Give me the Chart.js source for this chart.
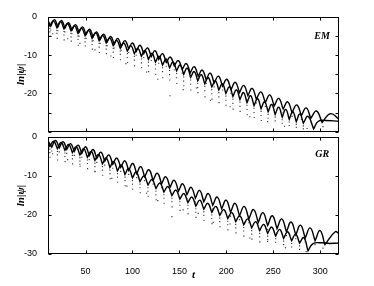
<!DOCTYPE html>
<html>
<head>
<meta charset="utf-8">
<script src="https://cdn.jsdelivr.net/npm/chart.js@4.4.0/dist/chart.umd.min.js"></script>
<style>
  body { margin: 0; background: #fff; }
  #wrap { position: relative; width: 374px; height: 286px; }
  canvas { position: absolute; left: 0; }
  #emCanvas { top: 0; }
  #grCanvas { top: 120px; }
</style>
</head>
<body>
<div id="wrap">
  <canvas id="emCanvas" width="374" height="140"></canvas>
  <canvas id="grCanvas" width="374" height="166"></canvas>
</div>
<script>
// time axis ticks and y ticks
const xTicks = [50, 100, 150, 200, 250, 300];
const emYTicks = [0, -5, -10, -15, -20, -25, -30];
const grYTicks = [0, -10, -20, -30];

// EM panel as [t, ln|psi|] (crests and cusps)
const emUpper = [[10,-0.9],[13,-2.4],[16.8,-0.7],[20.5,-2.6],[24.3,-0.9],[28,-2.9],[31.8,-1.5],[35.5,-3.4],[39.3,-2.0],[43,-4.0],
  [46.8,-2.6],[50.5,-4.6],[54.3,-3.2],[58,-5.2],[61.8,-3.9],[65.5,-5.9],[69.3,-4.5],[73,-6.5],[76.8,-5.1],[80.5,-7.1],
  [84.3,-5.6],[88,-7.7],[92,-6.2],[96,-8.3],[100,-6.8],[104,-9.0],[108,-7.4],[112,-9.6],[116,-8.1],[120,-10.4],
  [124,-8.8],[128,-11.1],[132,-9.6],[136,-11.9],[140.3,-10.5],[144.5,-12.8],[148.8,-11.4],[153,-13.7],[157.3,-12.2],[161.5,-14.6],
  [165.8,-13.0],[170,-15.5],[174.3,-13.9],[178.5,-16.4],[182.8,-14.7],[187,-17.3],[191.5,-15.5],[196,-18.1],[200.5,-16.3],[205,-19.0],
  [209.5,-17.1],[214,-19.8],[218.5,-17.9],[223,-20.6],[227.5,-18.7],[232,-21.5],[236.8,-19.6],[241.5,-22.4],[246.3,-20.4],[251,-23.3],
  [255.8,-21.3],[260.5,-24.1],[265.3,-22.2],[270,-25.0],[275,-23.0],[280,-25.8],[285,-23.8],[290,-26.5],[296,-24.6],[302,-27.6],
  [311,-25.3],[320,-26.8]];
const emLower = [[10,-1.2],[12,-2.3],[15.8,-1.0],[19.5,-2.8],[23.3,-1.2],[27,-3.1],[30.8,-1.7],[34.5,-3.6],[38.3,-2.3],[42,-4.3],
  [45.8,-2.9],[49.5,-4.9],[53.3,-3.5],[57,-5.6],[60.8,-4.1],[64.5,-6.2],[68.3,-4.8],[72,-6.8],[75.8,-5.5],[79.5,-7.5],
  [83.3,-6.1],[87,-8.2],[90.8,-6.8],[94.5,-8.9],[98.3,-7.5],[102,-9.6],[105.8,-8.2],[109.5,-10.3],[113.3,-8.8],[117,-11.1],
  [120.8,-9.5],[124.5,-11.8],[128.3,-10.3],[132,-12.6],[135.8,-11.0],[139.5,-13.3],[143.3,-11.8],[147,-14.1],[150.8,-12.6],[154.5,-15.0],
  [158.3,-13.4],[162,-15.8],[165.8,-14.3],[169.5,-16.7],[173.3,-15.1],[177,-17.5],[180.8,-15.9],[184.5,-18.3],[188.3,-16.7],[192,-19.1],
  [195.8,-17.5],[199.5,-20.0],[203.3,-18.3],[207,-20.8],[210.8,-19.1],[214.5,-21.6],[218.3,-19.8],[222,-22.4],[225.8,-20.6],[229.5,-23.2],
  [233.3,-21.4],[237,-24.0],[240.8,-22.2],[244.5,-24.8],[248.3,-22.9],[252,-25.5],[255.8,-23.6],[259.5,-26.2],[263.3,-24.2],[267,-26.8],
  [270.8,-24.8],[274.5,-27.4],[278.3,-25.4],[282,-27.8],[287,-26.0],[293,-29.3],[298,-27.3],[306,-27.1],[320,-27.3]];
const emDots = [[12,-3.0],[12,-3.9],[12.3,-5.0],[19.5,-3.5],[19.5,-4.3],[19.8,-5.6],[27,-3.8],[27,-4.7],[27.2,-6.0],
  [34.5,-4.3],[34.5,-5.2],[34.8,-6.3],[42,-5.0],[42,-5.9],[42.2,-7.4],[49.5,-5.6],[49.5,-6.5],[49.7,-7.6],
  [57,-6.3],[57,-7.2],[57.2,-8.4],[64.5,-6.9],[64.5,-7.9],[64.7,-9.3],[72,-7.5],[72,-8.4],[72.2,-9.6],
  [79.5,-8.2],[79.5,-9.2],[79.7,-10.6],[87,-8.9],[87,-9.8],[87.2,-11.2],[94.5,-9.6],[94.5,-10.6],[94.7,-11.9],
  [102,-10.3],[102,-11.3],[102.2,-12.8],[109.5,-11.0],[109.5,-12.0],[109.7,-13.3],[117,-11.8],[117,-12.8],[117.2,-14.3],
  [124.5,-12.5],[124.5,-13.6],[124.7,-15.0],[132,-13.3],[132,-14.3],[132.2,-15.9],[139.5,-14.0],[139.5,-15.1],[139.7,-16.5],
  [147,-14.8],[147,-15.9],[147.2,-17.4],[154.5,-15.7],[154.5,-16.8],[154.7,-18.0],[162,-16.5],[162,-17.6],[162.2,-19.1],
  [169.5,-17.4],[169.5,-18.5],[169.7,-19.8],[177,-18.2],[177,-19.3],[177.2,-20.9],[184.5,-19.0],[184.5,-20.1],[184.7,-21.5],
  [192,-19.8],[192,-20.9],[192.2,-22.4],[199.5,-20.7],[199.5,-21.8],[199.7,-23.1],[207,-21.5],[207,-22.6],[207.2,-24.1],
  [214.5,-22.3],[214.5,-23.4],[214.7,-24.7],[222,-23.1],[222,-24.2],[222.2,-25.6],[229.5,-23.9],[229.5,-25.0],[229.7,-26.3],
  [237,-24.7],[237,-25.8],[237.2,-27.1],[244.5,-25.5],[244.5,-26.5],[252,-26.2],[252,-27.2],[259.5,-26.9],[259.5,-27.8],
  [267,-27.5],[267,-28.4],[274.5,-28.1],[274.5,-28.9],[282,-28.5],[282,-29.3],
  [13,-3.4],[20.5,-3.6],[28,-3.9],[35.5,-4.4],[43,-5.0],[50.5,-5.6],[58,-6.2],[65.5,-6.9],[73,-7.5],[80.5,-8.1],
  [88,-8.7],[96,-9.3],[104,-10.0],[112,-10.6],[120,-11.4],[128,-12.1],[136,-12.9],[144.5,-13.8],[153,-14.7],[161.5,-15.6],
  [170,-16.5],[178.5,-17.4],[187,-18.3],[196,-19.1],[205,-20.0],[214,-20.8],[223,-21.6],[232,-22.5],[241.5,-23.4],[251,-24.3],
  [260.5,-25.1],[270,-26.0],[280,-26.8],[290,-27.5],
  [15,-4.4],[31,-5.7],[44,-6.9],[60,-8.6],[77,-10.2],[93,-12.2],[115,-14.4],[127,-16.3],[140,-20.6],[154,-19.0],
  [168,-18.6],[183,-21.8],[204,-23.5],[225,-26.1],[244,-27.4],[262,-28.6],[286,-29.2],[303,-28.7]];

// GR panel
const grUpper = [[10,-1.0],[14,-2.6],[18,-0.9],[22,-2.8],[26,-1.2],[30,-3.2],[34,-1.7],[38,-3.7],[42,-2.1],[46,-4.2],
  [50,-2.5],[54,-4.8],[58,-3.2],[62,-5.5],[66.3,-3.9],[70.5,-6.2],[74.8,-4.6],[79,-7.0],[83.3,-5.4],[87.5,-7.8],
  [91.8,-6.1],[96,-8.6],[100.3,-6.8],[104.5,-9.4],[108.8,-7.6],[113,-10.2],[117.5,-8.4],[122,-11.1],[126.5,-9.3],[131,-12.0],
  [135.5,-10.2],[140,-12.9],[144.5,-11.1],[149,-13.9],[153.5,-12.0],[158,-14.8],[162.5,-12.9],[167,-15.7],[171.5,-13.7],[176,-16.6],
  [180.8,-14.5],[185.5,-17.5],[190.3,-15.4],[195,-18.4],[199.8,-16.2],[204.5,-19.3],[209.3,-17.0],[214,-20.2],[219,-17.8],[224,-21.0],
  [229,-18.6],[234,-21.9],[239,-19.4],[244,-22.7],[249,-20.2],[254,-23.5],[259,-21.0],[264,-24.3],[269,-21.8],[274,-25.1],
  [279,-22.6],[284,-25.9],[289.3,-23.3],[294.5,-26.6],[299.8,-24.0],[305,-27.6],[316,-24.3],[320,-24.8]];
const grLower = [[10,-1.3],[12,-2.4],[16,-1.1],[20,-3.0],[24,-1.4],[28,-3.4],[32,-1.9],[36,-4.0],[40,-2.5],[44,-4.6],
  [48,-3.0],[52,-5.2],[56,-3.7],[60,-6.0],[64,-4.5],[68,-6.9],[72,-5.4],[76,-7.8],[80,-6.3],[84,-8.7],
  [88,-7.2],[92,-9.6],[96,-8.1],[100,-10.5],[104,-9.0],[108,-11.4],[112.3,-10.0],[116.5,-12.3],[120.8,-10.9],[125,-13.2],
  [129.3,-11.8],[133.5,-14.1],[137.8,-12.7],[142,-15.0],[146.3,-13.6],[150.5,-15.9],[154.8,-14.5],[159,-16.8],[163.3,-15.4],[167.5,-17.7],
  [171.8,-16.2],[176,-18.5],[180.3,-17.0],[184.5,-19.3],[188.8,-17.8],[193,-20.1],[197.3,-18.6],[201.5,-20.9],[205.8,-19.4],[210,-21.7],
  [214.3,-20.2],[218.5,-22.5],[222.8,-21.0],[227,-23.3],[231.3,-21.7],[235.5,-24.0],[239.8,-22.4],[244,-24.7],[248.3,-23.1],[252.5,-25.4],
  [256.8,-23.7],[261,-26.0],[265.3,-24.3],[269.5,-26.6],[273.8,-24.9],[278,-27.2],[282.5,-25.8],[287,-29.2],[292,-27.4],[300,-27.1],
  [310,-27.3],[320,-27.2]];
const grDots = [[12,-3.1],[12,-4.0],[12.2,-5.2],[20,-3.7],[20,-4.6],[20.2,-5.9],[28,-4.1],[28,-5.0],[28.2,-6.3],
  [36,-4.7],[36,-5.6],[36.2,-6.9],[44,-5.3],[44,-6.2],[44.2,-7.5],[52,-5.9],[52,-6.8],[52.2,-8.1],
  [60,-6.7],[60,-7.6],[60.2,-8.9],[68,-7.6],[68,-8.5],[68.2,-9.8],[76,-8.5],[76,-9.4],[76.2,-10.7],
  [84,-9.4],[84,-10.3],[84.2,-11.6],[92,-10.3],[92,-11.2],[92.2,-12.5],[100,-11.2],[100,-12.1],[100.2,-13.4],
  [108,-12.1],[108,-13.0],[108.2,-14.3],[116.5,-13.0],[116.5,-13.9],[116.7,-15.2],[125,-13.9],[125,-14.8],[125.2,-16.1],
  [133.5,-14.8],[133.5,-15.7],[133.7,-17.0],[142,-15.7],[142,-16.6],[142.2,-17.9],[150.5,-16.6],[150.5,-17.5],[150.7,-18.8],
  [159,-17.5],[159,-18.4],[159.2,-19.7],[167.5,-18.4],[167.5,-19.3],[167.7,-20.6],[176,-19.2],[176,-20.1],[176.2,-21.4],
  [184.5,-20.0],[184.5,-20.9],[184.7,-22.2],[193,-20.8],[193,-21.7],[193.2,-23.0],[201.5,-21.6],[201.5,-22.5],[201.7,-23.8],
  [210,-22.4],[210,-23.3],[210.2,-24.6],[218.5,-23.2],[218.5,-24.1],[218.7,-25.4],[227,-24.0],[227,-24.9],[227.2,-26.2],
  [235.5,-24.7],[235.5,-25.6],[235.7,-26.9],[244,-25.4],[244,-26.3],[252.5,-26.1],[252.5,-27.0],[261,-26.7],[261,-27.6],
  [269.5,-27.3],[269.5,-28.2],[278,-27.9],[278,-28.8],
  [14,-3.6],[22,-3.8],[30,-4.2],[38,-4.7],[46,-5.2],[54,-5.8],[62,-6.5],[70.5,-7.2],[79,-8.0],[87.5,-8.8],
  [96,-9.6],[104.5,-10.4],[113,-11.2],[122,-12.1],[131,-13.0],[140,-13.9],[149,-14.9],[158,-15.8],[167,-16.7],[185.5,-18.5],
  [195,-19.4],[204.5,-20.3],[214,-21.2],[224,-22.0],[234,-22.9],[244,-23.7],[254,-24.5],[264,-25.3],[274,-26.1],[284,-26.9],
  [294.5,-27.6],
  [15,-4.3],[31,-5.8],[44,-7.0],[60,-8.8],[78,-10.6],[94,-12.6],[115,-14.4],[127,-16.3],[142,-20.4],[154,-18.7],
  [170,-19.6],[186,-21.9],[204,-22.3],[225,-25.9],[244,-26.8],[263,-28.4],[285,-29.4],[303,-28.5]];

// repeat each cusp so the bezier turns sharply there and stays round on the crests
function curvePoints(pairs) {
  const pts = [];
  pairs.forEach(([t, v], i) => {
    pts.push({ x: t, y: v });
    const prev = pairs[i - 1], next = pairs[i + 1];
    if (prev && next && v < prev[1] && v < next[1]) pts.push({ x: t, y: v });
  });
  return pts;
}

// box with inward ticks on all four sides, matlab style
const framePlugin = {
  id: "frame",
  afterDraw(chart) {
    const { ctx, chartArea: a, scales } = chart;
    const L = Math.round(a.left) + 0.5, R = Math.round(a.right) - 0.5;
    const T = Math.round(a.top) + 0.5, B = Math.round(a.bottom) - 0.5;
    ctx.save();
    ctx.strokeStyle = "#000";
    ctx.lineWidth = 1;
    ctx.beginPath();
    scales.x.ticks.forEach((tk) => {
      const px = Math.round(scales.x.getPixelForValue(tk.value)) + 0.5;
      ctx.moveTo(px, B); ctx.lineTo(px, B - 3);
      ctx.moveTo(px, T); ctx.lineTo(px, T + 3);
    });
    scales.y.ticks.forEach((tk) => {
      const py = Math.round(scales.y.getPixelForValue(tk.value)) + 0.5;
      ctx.moveTo(L, py); ctx.lineTo(L + 3, py);
      ctx.moveTo(R, py); ctx.lineTo(R - 3, py);
    });
    ctx.stroke();
    ctx.strokeRect(L, T, R - L, B - T);
    ctx.restore();
  },
};

const tagPlugin = {
  id: "tag",
  afterDraw(chart, args, opts) {
    const { ctx, scales } = chart;
    ctx.save();
    ctx.fillStyle = "#000";
    ctx.font = 'italic bold 10px "Liberation Serif"';
    ctx.textAlign = "center";
    ctx.textBaseline = "middle";
    ctx.fillText(opts.text, scales.x.getPixelForValue(opts.t), scales.y.getPixelForValue(opts.v));
    ctx.restore();
  },
};

const tickFont = { family: "Liberation Sans", size: 9 };
const titleFont = { family: "Liberation Serif", style: "italic", weight: "bold", size: 11 };

function makePanel(id, upper, lower, dots, yTicks, tag, tagV, bottom) {
  return new Chart(document.getElementById(id), {
    type: "scatter",
    data: {
      datasets: [
        {
          data: dots.map(([t, v]) => ({ x: t, y: v })),
          showLine: false,
          pointStyle: "rect",
          pointRadius: 0.8,
          pointBackgroundColor: "#333",
          pointBorderWidth: 0,
        },
        {
          data: curvePoints(lower),
          showLine: true,
          borderColor: "#000",
          borderWidth: 1.4,
          pointRadius: 0,
          tension: 0.45,
        },
        {
          data: curvePoints(upper),
          showLine: true,
          borderColor: "#000",
          borderWidth: 1.4,
          pointRadius: 0,
          tension: 0.45,
        },
      ],
    },
    options: {
      responsive: false,
      animation: false,
      events: [],
      layout: { padding: { top: 17, right: 35, bottom: bottom ? 0 : 7, left: 0 } },
      plugins: {
        legend: { display: false },
        tooltip: { enabled: false },
        tag: { text: tag, t: 302, v: tagV },
      },
      scales: {
        x: {
          type: "linear",
          min: 10,
          max: 320,
          afterBuildTicks: (s) => { s.ticks = xTicks.map((v) => ({ value: v })); },
          afterFit: (s) => { s.height = bottom ? 32 : 0; },
          grid: { display: false },
          border: { display: false },
          ticks: { display: bottom, font: tickFont, color: "#000", padding: 4, maxRotation: 0 },
          title: { display: bottom, text: "t", font: titleFont, color: "#000", padding: { top: 0, bottom: 4 } },
        },
        y: {
          type: "linear",
          min: -30,
          max: 0,
          afterBuildTicks: (s) => { s.ticks = yTicks.map((v) => ({ value: v })); },
          afterFit: (s) => { s.width = 48; },
          grid: { display: false },
          border: { display: false },
          ticks: {
            font: tickFont,
            color: "#000",
            padding: 3,
            callback: (v) => (v % 10 === 0 && (bottom || v > -30) ? String(v) : ""),
          },
          title: { display: true, text: "ln|ψ|", font: titleFont, color: "#000", padding: { top: 15, bottom: 0 } },
        },
      },
    },
    plugins: [framePlugin, tagPlugin],
  });
}

const emChart = makePanel("emCanvas", emUpper, emLower, emDots, emYTicks, "EM", -5.2, false);
const grChart = makePanel("grCanvas", grUpper, grLower, grDots, grYTicks, "GR", -4.4, true);
</script>
</body>
</html>
